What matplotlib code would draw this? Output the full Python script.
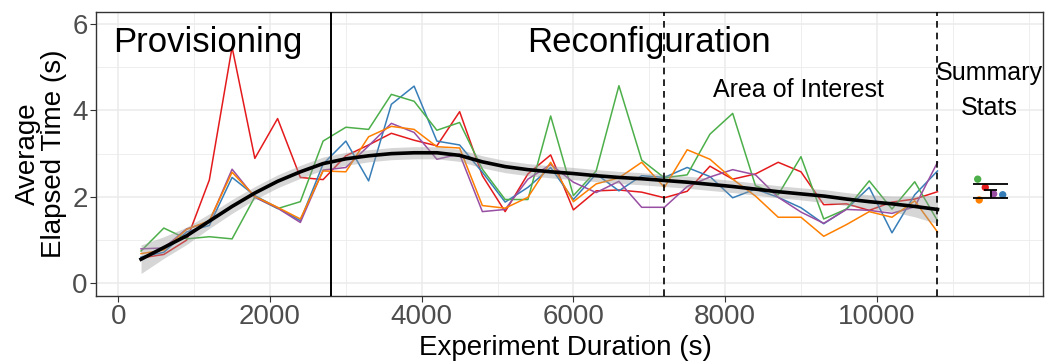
import numpy as np
import matplotlib.pyplot as plt
from matplotlib.ticker import MultipleLocator

plt.rcParams['font.family'] = ['Liberation Sans', 'DejaVu Sans']

# sample times (s), one every 300 s
duration = np.arange(300, 10801, 300)

# average elapsed time per run (s)
run_red = [0.59, 0.67, 1.00, 2.39, 5.46, 2.89, 3.81, 2.45, 2.40, 2.95, 3.20, 3.47,
           3.31, 3.18, 3.97, 2.49, 1.66, 2.53, 2.97, 1.70, 2.14, 2.16, 2.11, 1.98,
           2.13, 2.71, 2.41, 2.53, 2.80, 2.58, 1.82, 1.84, 1.69, 1.88, 1.95, 2.12]
run_blue = [0.61, 0.72, 1.19, 1.34, 2.45, 2.03, 1.75, 1.45, 2.76, 3.29, 2.37, 4.14,
            4.56, 3.29, 3.20, 2.57, 1.88, 2.22, 2.68, 1.94, 2.53, 2.14, 2.49, 2.45,
            2.68, 2.47, 1.98, 2.18, 1.99, 1.75, 1.38, 1.72, 2.22, 1.17, 2.05, 2.60]
run_green = [0.75, 1.28, 1.03, 1.08, 1.03, 2.00, 1.73, 1.89, 3.29, 3.61, 3.56, 4.37,
             4.21, 3.54, 3.72, 2.64, 1.94, 1.94, 3.87, 2.03, 2.60, 4.57, 2.85, 2.44,
             2.51, 3.45, 3.93, 2.26, 2.05, 2.93, 1.49, 1.72, 2.37, 1.72, 2.35, 1.45]
run_purple = [0.80, 0.82, 1.26, 1.42, 2.64, 1.99, 1.74, 1.41, 2.62, 2.68, 3.18, 3.70,
              3.49, 2.87, 2.99, 1.66, 1.71, 2.41, 2.75, 2.34, 2.10, 2.36, 1.76, 1.76,
              2.24, 2.46, 2.63, 2.51, 1.99, 1.65, 1.39, 1.71, 1.69, 1.62, 1.77, 2.80]
run_orange = [0.69, 0.77, 1.25, 1.45, 2.57, 2.01, 1.76, 1.49, 2.60, 2.58, 3.39, 3.63,
              3.56, 3.16, 3.13, 1.80, 1.74, 1.99, 2.80, 1.89, 2.30, 2.44, 2.80, 2.22,
              3.09, 2.87, 2.41, 2.02, 1.53, 1.53, 1.09, 1.36, 1.66, 1.53, 1.91, 1.19]

runs = [run_red, run_blue, run_green, run_purple, run_orange]
run_colors = ['#E41A1C', '#377EB8', '#4DAF4A', '#984EA3', '#FF7F00']

# smoothed trend and its confidence band (read at the same sample times)
smooth_mean = [0.56, 0.83, 1.10, 1.44, 1.78, 2.09, 2.36, 2.58, 2.77, 2.88, 2.95, 3.00,
               3.02, 3.02, 2.96, 2.81, 2.70, 2.63, 2.58, 2.54, 2.49, 2.45, 2.42, 2.38,
               2.34, 2.29, 2.24, 2.18, 2.12, 2.07, 2.02, 1.95, 1.89, 1.84, 1.78, 1.71]
smooth_half = [0.33, 0.25, 0.20, 0.17, 0.16, 0.15, 0.15, 0.15, 0.15, 0.15, 0.14, 0.14,
               0.14, 0.14, 0.14, 0.14, 0.14, 0.14, 0.14, 0.14, 0.14, 0.14, 0.14, 0.14,
               0.14, 0.14, 0.14, 0.14, 0.14, 0.14, 0.15, 0.15, 0.16, 0.18, 0.24, 0.33]

# summary stats (per-run means, jittered) and error bar
summary_x = [11430, 11660, 11330, 11540, 11350]
summary_y = [2.22, 2.05, 2.41, 2.07, 1.93]
err_x = 11500
err_lo, err_mean, err_hi = 1.97, 2.15, 2.30

phase_bounds = [2800, 7200, 10800]

fig = plt.figure(figsize=(10.46, 3.63), dpi=100)
ax = fig.add_axes([96 / 1046, 1 - 296 / 363, (1043 - 96) / 1046, (296 - 11.7) / 363])

for vals, col in zip(runs, run_colors):
    ax.plot(duration, vals, color=col, lw=1.1, zorder=2)

lo = np.array(smooth_mean) - np.array(smooth_half)
hi = np.array(smooth_mean) + np.array(smooth_half)
ax.fill_between(duration, lo, hi, color='#999999', alpha=0.4, lw=0, zorder=3)
ax.plot(duration, smooth_mean, color='black', lw=2.6, zorder=4)

ax.axvline(phase_bounds[0], color='black', lw=1.4, zorder=5)
ax.axvline(phase_bounds[1], color='black', lw=1.2, ls=(0, (4, 3)), zorder=5)
ax.axvline(phase_bounds[2], color='black', lw=1.2, ls=(0, (4, 3)), zorder=5)

# summary stats
ax.scatter(summary_x, summary_y, c=run_colors, s=28, zorder=6, linewidths=0)
ax.hlines([err_lo, err_hi], err_x - 230, err_x + 230, color='black', lw=1.3, zorder=7)
ax.hlines(err_mean, err_x - 90, err_x + 90, color='black', lw=1.3, zorder=7)
ax.vlines(err_x, err_lo, err_mean, color='black', lw=1.3, zorder=7)

ax.text(1180, 5.35, 'Provisioning', fontsize=25, ha='center', va='baseline', zorder=8)
ax.text(6990, 5.35, 'Reconfiguration', fontsize=25, ha='center', va='baseline', zorder=8)
ax.text(8970, 4.31, 'Area of Interest', fontsize=18, ha='center', va='baseline', zorder=8)
ax.text(11480, 4.71, 'Summary', fontsize=18, ha='center', va='baseline', zorder=8)
ax.text(11480, 3.90, 'Stats', fontsize=18, ha='center', va='baseline', zorder=8)

ax.set_xlim(-294, 12191)
ax.set_ylim(-0.29, 6.28)
ax.set_xticks([0, 2000, 4000, 6000, 8000, 10000])
ax.xaxis.set_minor_locator(MultipleLocator(1000))
ax.set_yticks([0, 2, 4, 6])
ax.yaxis.set_minor_locator(MultipleLocator(1))
ax.grid(which='major', color='#EBEBEB', lw=1.1, zorder=0)
ax.grid(which='minor', color='#EBEBEB', lw=0.6, zorder=0)
ax.set_axisbelow(True)
ax.tick_params(which='major', labelsize=20, labelcolor='#4D4D4D', color='#333333',
               length=4, width=0.8, pad=2)
ax.tick_params(which='minor', length=0)
for sp in ax.spines.values():
    sp.set_color('#333333')
    sp.set_linewidth(1.0)

fig.text(565 / 1046, 1 - 348 / 363, 'Experiment Duration (s)', fontsize=20,
         ha='center', va='center')
fig.text(41 / 1046, 1 - 154 / 363, 'Average\nElapsed Time (s)', fontsize=20,
         rotation=90, ha='center', va='center', multialignment='center',
         linespacing=1.0)

fig.savefig('out.png', dpi=100)
